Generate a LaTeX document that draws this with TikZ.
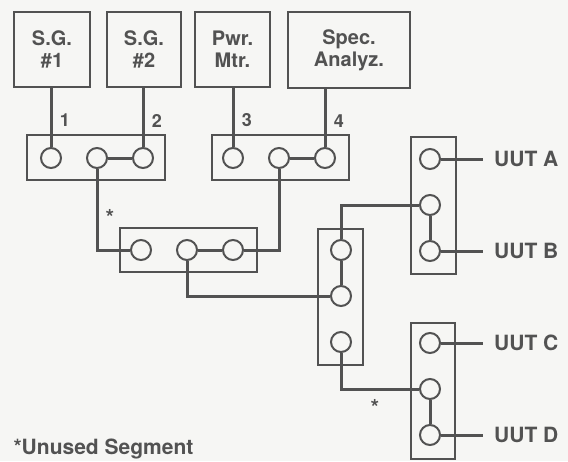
\documentclass[tikz,border=0pt]{standalone}
\usepackage{fontspec}
\setmainfont{TeX Gyre Heros}
\definecolor{ink}{RGB}{82,82,82}
\definecolor{paper}{RGB}{246,246,244}

\begin{document}
\begin{tikzpicture}[x=1pt,y=-1pt,node distance=46pt,
  instr/.style={draw=ink,line width=2.2pt,fill=paper,minimum height=75pt,align=center,text=ink,font=\fontsize{20}{22}\selectfont\bfseries},
  swbox/.style={draw=ink,line width=2pt},
  port/.style={circle,draw=ink,line width=2pt,fill=paper,minimum size=20pt,inner sep=0pt},
  wire/.style={draw=ink,line width=3pt},
  num/.style={right=4pt,text=ink,font=\fontsize{18}{18}\selectfont\bfseries},
  uut/.style={anchor=west,inner xsep=11pt,text=ink,font=\fontsize{21}{21}\selectfont\bfseries},
  ast/.style={text=ink,font=\fontsize{22}{22}\selectfont\bfseries}]
\fill[paper] (0,0) rectangle (568,461);
\useasboundingbox (0,0) rectangle (568,461);

% instruments
\node[instr,minimum width=76pt] (sg1) at (52,49.5) {S.G.\\\#1};
\node[instr,minimum width=74pt] (sg2) at (144,49.5) {S.G.\\\#2};
\node[instr,minimum width=75pt] (pwr) at (232.5,49.5) {Pwr.\\Mtr.};
\node[instr,minimum width=122pt,minimum height=76pt] (spec) at (349,50) {Spec.\\Analyz.};

% switch boxes
\node[swbox,minimum width=138pt,minimum height=45pt] (s1) at (96,157.5) {};
\node[swbox,minimum width=137pt,minimum height=45pt] (s3) at (280.5,157.5) {};
\node[swbox,minimum width=137pt,minimum height=44pt] (s2) at (188.5,250) {};
\node[swbox,minimum width=45pt,minimum height=136pt] (s4) at (340.5,297) {};
\node[swbox,minimum width=45pt,minimum height=137pt] (s5) at (433.5,205.5) {};
\node[swbox,minimum width=44pt,minimum height=136pt] (s6) at (433,391) {};

% ports
\node[port] (p11) at (51,158) {};
\node[port] (p12) [right of=p11] {};
\node[port] (p13) [right of=p12] {};
\node[port] (p31) at (233,158) {};
\node[port] (p32) [right of=p31] {};
\node[port] (p33) [right of=p32] {};
\node[port] (p21) at (141,250) {};
\node[port] (p22) [right of=p21] {};
\node[port] (p23) [right of=p22] {};
\node[port] (p41) at (341,250) {};
\node[port] (p42) [below of=p41] {};
\node[port] (p43) [below of=p42] {};
\node[port] (p51) at (430,159) {};
\node[port] (p52) [below of=p51] {};
\node[port] (p53) [below of=p52] {};
\node[port] (p61) at (430,343) {};
\node[port] (p62) [below of=p61] {};
\node[port] (p63) [below of=p62] {};

\node[right of=p51,node distance=53pt,uut] (uuta) {UUT A};
\node[right of=p53,node distance=53pt,uut] (uutb) {UUT B};
\node[right of=p61,node distance=53pt,uut] (uutc) {UUT C};
\node[right of=p63,node distance=53pt,uut] (uutd) {UUT D};

\node[ast] (ast1) at (110,217) {*};
\node[ast] (ast2) at (375,407) {*};
\node[anchor=west,text=ink,font=\fontsize{21}{21}\selectfont\bfseries] (note) at (10,449) {*Unused Segment};

% cables
\draw[wire] (p11 |- sg1.south) -- node[num,pos=.55] {1} (p11);
\draw[wire] (p13 |- sg2.south) -- node[num,pos=.55] {2} (p13);
\draw[wire] (p31 |- pwr.south) -- node[num,pos=.55] {3} (p31);
\draw[wire] (p33 |- spec.south) -- node[num,pos=.55] {4} (p33);

\draw[wire] (p12) -- (p13);
\draw[wire] (p32) -- (p33);
\draw[wire] (p12) |- (p21);
\draw[wire] (p32) |- (p23);
\draw[wire] (p22) -- (p23);
\draw[wire] (p22) |- (p42);
\draw[wire] (p41) -- (p42);
\draw[wire] (p41) |- (p52);
\draw[wire] (p52) -- (p53);
\draw[wire] (p43) |- (p62);
\draw[wire] (p62) -- (p63);

\draw[wire] (p51) -- (uuta);
\draw[wire] (p53) -- (uutb);
\draw[wire] (p61) -- (uutc);
\draw[wire] (p63) -- (uutd);
\end{tikzpicture}
\end{document}
